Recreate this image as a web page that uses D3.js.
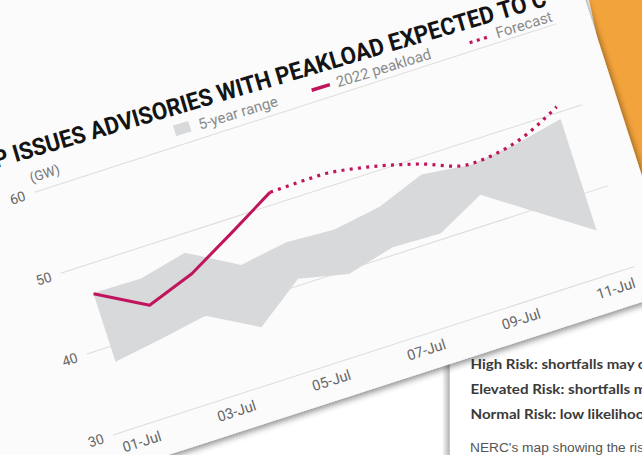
<!DOCTYPE html>
<html><head><meta charset="utf-8">
<script src="https://cdn.jsdelivr.net/npm/d3@7"></script>
<style>html,body{margin:0;padding:0;background:#fff;overflow:hidden}</style>
</head><body>
<svg id="c" width="642" height="455"></svg>
<script>
// ---- data ----
const days = ["2022-07-01","2022-07-02","2022-07-03","2022-07-04","2022-07-05","2022-07-06",
              "2022-07-07","2022-07-08","2022-07-09","2022-07-10","2022-07-11"];
const tickLabels = ["01-Jul","03-Jul","05-Jul","07-Jul","09-Jul","11-Jul"];
const rangeLow  = [38.1, 39.0, 40.0, 36.7, 40.8, 39.5, 40.9, 40.7, 43.6, 39.5, 35.4];
const rangeHigh = [46.6, 46.5, 47.8, 44.4, 45.3, 45.0, 45.9, 48.0, 47.3, 48.0, 49.2];
const peakDays = days.slice(0, 5);
const peak2022 = [46.5, 43.2, 45.2, 48.3, 51.5];
const forecastDays = days.slice(4);
const forecast = [51.5, 51.6, 50.8, 49.3, 47.4, 48.2, 50.7];
const yTicks = [30, 40, 50, 60];
const legendLabels = ["5-year range", "2022 peakload", "Forecast"];
const unitLabel = "(GW)";
const titleText = "P ISSUES ADVISORIES WITH PEAKLOAD EXPECTED TO C";
const docLines = ["High Risk: shortfalls may o", "Elevated Risk: shortfalls m", "Normal Risk: low likelihoo"];
const docNote = "NERC's map showing the ris";

// ---- layout ----
const W = 548, H = 255;
const pink = "#c0145c", bandColor = "#d8d9db";
const svg = d3.select("#c");
const defs = svg.append("defs");
const f = defs.append("filter").attr("id","sh").attr("x","-20%").attr("y","-20%").attr("width","140%").attr("height","140%");
f.append("feDropShadow").attr("dx",1).attr("dy",3).attr("stdDeviation",3).attr("flood-color","#000").attr("flood-opacity",0.45);
const gr = defs.append("linearGradient").attr("id","dg").attr("x1",0).attr("x2",1);
gr.append("stop").attr("offset",0).attr("stop-color","#000").attr("stop-opacity",0);
gr.append("stop").attr("offset",1).attr("stop-color","#000").attr("stop-opacity",0.28);

svg.append("rect").attr("width",642).attr("height",455).attr("fill","#fff");
// orange object behind the card
svg.append("path").attr("d","M588,-5 L660,-5 L660,190 L630,190 Z").attr("fill","#f3a33b");

// document underneath
svg.append("rect").attr("x",449).attr("y",250).attr("width",220).attr("height",220).attr("fill","#fff");
svg.append("rect").attr("x",442).attr("y",250).attr("width",7).attr("height",220).attr("fill","url(#dg)");
svg.append("line").attr("x1",449.5).attr("x2",449.5).attr("y1",250).attr("y2",460).attr("stroke","#c4c4c4").attr("stroke-width",1);
const docY = [369, 394, 419];
docLines.forEach((t,i)=>{
  svg.append("text").attr("x",470.5).attr("y",docY[i]).text(t)
    .attr("font-family","Lato, 'Open Sans', sans-serif").attr("font-weight",700)
    .attr("font-size",13.5).attr("fill","#3a3a3a")
    .attr("textLength",[176,176,174][i]).attr("lengthAdjust","spacingAndGlyphs");
});
svg.append("text").attr("x",470).attr("y",452).text(docNote)
  .attr("font-family","'Liberation Sans', Arial, sans-serif").attr("font-size",12).attr("fill","#555")
  .attr("textLength",174).attr("lengthAdjust","spacingAndGlyphs");

// ---- rotated chart card ----
const g = svg.append("g").attr("transform","translate(34.6,192.3) rotate(-17.9)");
g.append("rect").attr("x",-260).attr("y",-470).attr("width",583+260).attr("height",291+470)
  .attr("fill","#fbfbfb").attr("filter","url(#sh)");

const x = d3.scalePoint().domain(days).range([0, W]).padding(0.5);
const y = d3.scaleLinear().domain([30, 60]).range([H, 0]);

// gridlines
g.append("g").selectAll("line").data(yTicks).join("line")
  .attr("x1",0).attr("x2",W).attr("y1",d=>y(d)).attr("y2",d=>y(d))
  .attr("stroke","#dcdcdc").attr("stroke-width",1);

// y axis labels
const ya = g.append("g").call(d3.axisLeft(y).tickValues(yTicks).tickSize(0).tickPadding(10));
ya.select(".domain").remove();
ya.selectAll("text").attr("font-family","Roboto, sans-serif").attr("font-size",14).attr("fill","#666");

// x axis labels
const xa = g.append("g").attr("transform",`translate(0,${H})`)
  .call(d3.axisBottom(x).tickValues(days.filter((d,i)=>i%2===0)).tickFormat((d,i)=>tickLabels[i]).tickSize(0).tickPadding(10));
xa.select(".domain").remove();
xa.selectAll("text").attr("font-family","Roboto, sans-serif").attr("font-size",14.5).attr("fill","#666");

// band
const bandData = days.map((d,i)=>({d, lo: rangeLow[i], hi: rangeHigh[i]}));
g.append("path").datum(bandData)
  .attr("d", d3.area().x(p=>x(p.d)).y0(p=>y(p.lo)).y1(p=>y(p.hi)))
  .attr("fill", bandColor);

// 2022 peakload
g.append("path").datum(peakDays.map((d,i)=>({d, v: peak2022[i]})))
  .attr("d", d3.line().x(p=>x(p.d)).y(p=>y(p.v)))
  .attr("fill","none").attr("stroke",pink).attr("stroke-width",3).attr("stroke-linejoin","round");

// forecast
g.append("path").datum(forecastDays.map((d,i)=>({d, v: forecast[i]})))
  .attr("d", d3.line().curve(d3.curveMonotoneX).x(p=>x(p.d)).y(p=>y(p.v)))
  .attr("fill","none").attr("stroke",pink).attr("stroke-width",3.2).attr("stroke-dasharray","3,5.3");

// unit label
g.append("text").attr("x",0).attr("y",-10).text(unitLabel)
  .attr("font-family","Roboto, sans-serif").attr("font-size",13.5).attr("fill","#777");

// legend (slight perspective tilt)
const lg = g.append("g").attr("transform","rotate(0.8,150,-12)");
lg.append("rect").attr("x",152).attr("y",-21).attr("width",16).attr("height",11).attr("fill",bandColor);
lg.append("line").attr("x1",295).attr("x2",314).attr("y1",-14).attr("y2",-14).attr("stroke",pink).attr("stroke-width",3.5);
lg.append("line").attr("x1",460).attr("x2",480).attr("y1",-13).attr("y2",-13).attr("stroke",pink).attr("stroke-width",3.2).attr("stroke-dasharray","3,4.5");
[177, 321, 488].forEach((lx,i)=>{
  lg.append("text").attr("x",lx).attr("y",-9).text(legendLabels[i])
    .attr("font-family","Roboto, sans-serif").attr("font-size",15).attr("fill","#8a8a8a");
});

// title (slight perspective tilt)
g.append("text").attr("x",-29).attr("y",-35).text(titleText)
  .attr("transform","rotate(1.5,-29,-35)")
  .attr("font-family","Roboto, sans-serif").attr("font-weight",700).attr("font-size",24)
  .attr("fill","#141414").attr("textLength",575).attr("lengthAdjust","spacingAndGlyphs");
</script>
</body></html>
